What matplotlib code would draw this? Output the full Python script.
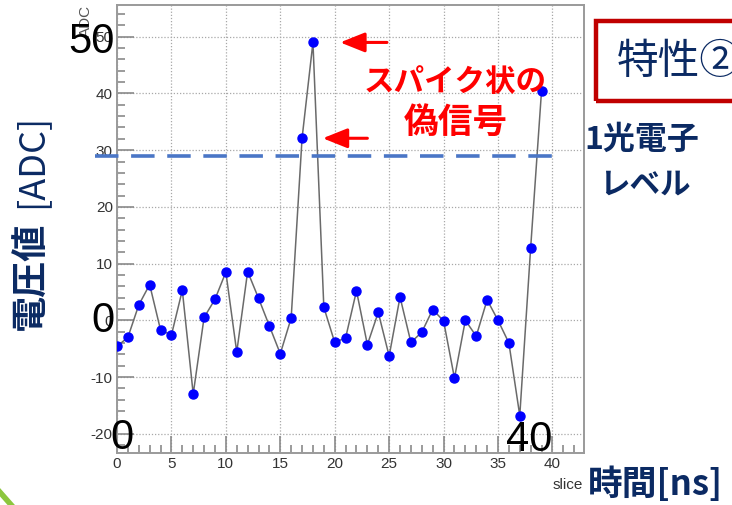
import matplotlib
matplotlib.use("Agg")
import matplotlib.pyplot as plt
from matplotlib.lines import Line2D
from matplotlib.patches import Rectangle
from matplotlib.ticker import MultipleLocator

plt.rcParams["axes.unicode_minus"] = False

# ADC samples per time slice
slices = list(range(40))
adc = [-4.6, -3.0, 2.7, 6.3, -1.7, -2.6, 5.3, -13.0, 0.5, 3.7,
       8.5, -5.6, 8.6, 3.9, -1.0, -5.9, 0.4, 32.1, 49.0, 2.3,
       -3.9, -3.1, 5.2, -4.3, 1.4, -6.3, 4.1, -3.9, -2.1, 1.9,
       -0.1, -10.2, 0.0, -2.8, 3.6, 0.0, -4.0, -16.8, 12.8, 40.5]
pe_level = 29.0
spike_slices = [18, 17]

W, H = 732, 505
fig = plt.figure(figsize=(W / 100, H / 100), dpi=100)
fig.patch.set_facecolor("white")

def fx(px):
    return px / W

def fy(py):
    return 1 - py / H

ax = fig.add_axes([fx(117), fy(453), fx(584) - fx(117), fy(5) - fy(453)])
ax.set_xlim(0, 42.9)
ax.set_ylim(-23.4, 55.6)

navy = "#0b2a63"
cjk = ["Noto Sans CJK JP", "DejaVu Sans"]
num_font = "Liberation Sans"

# frame and ticks in ROOT style
for s in ax.spines.values():
    s.set_color("#9a9a9a")
    s.set_linewidth(1.4)
ax.xaxis.set_major_locator(MultipleLocator(5))
ax.xaxis.set_minor_locator(MultipleLocator(1))
ax.yaxis.set_major_locator(MultipleLocator(10))
ax.yaxis.set_minor_locator(MultipleLocator(2))
ax.tick_params(which="both", direction="in", color="#8a8a8a", width=1.2,
               top=False, right=False)
ax.tick_params(which="major", length=12, labelsize=11, labelcolor="#333333", pad=3)
ax.tick_params(which="minor", length=6)
for lab in ax.get_xticklabels() + ax.get_yticklabels():
    lab.set_fontfamily(num_font)
ax.grid(True, which="major", linestyle=(0, (1, 1.5)), color="#a8a8a8", linewidth=0.9)
ax.set_axisbelow(True)

# waveform
ax.plot(slices, adc, color="#6a6a6a", linewidth=1.1, zorder=3)
ax.plot(slices, adc, linestyle="none", marker="o", markersize=6.5,
        color="#0000ff", zorder=4)

# single photo-electron threshold
ax.plot([-2.05, 41.0], [pe_level, pe_level], color="#4a76c6", linewidth=2.6,
        linestyle=(0, (6.5, 3.5)), clip_on=False, zorder=5)

# arrows to the spike samples
arrow_tails = [24.8, 23.0]
arrow_tips = [20.5, 18.9]
for i, s in enumerate(spike_slices):
    yv = adc[s]
    ax.annotate("", xy=(arrow_tips[i], yv), xytext=(arrow_tails[i], yv),
                arrowprops=dict(arrowstyle="-|>,head_length=0.75,head_width=0.3",
                                mutation_scale=20, color="#ff0000",
                                linewidth=2.2, shrinkA=0, shrinkB=0),
                zorder=6)

# axis titles from the histogram
fig.text(fx(583), fy(485), "slice", fontsize=11, color="#333333",
         family=num_font, ha="right", va="center")
fig.text(fx(86), fy(5), "ADC", fontsize=11, color="#555555", family=num_font,
         rotation=90, ha="center", va="top")

# slide annotations
fig.text(fx(455), fy(82), "スパイク状の", fontsize=22, color="#ff0000",
         fontweight="bold", family=cjk, ha="center", va="center")
fig.text(fx(456), fy(122), "偽信号", fontsize=25, color="#ff0000",
         fontweight="bold", family=cjk, ha="center", va="center")
fig.text(fx(642), fy(140), "1光電子", fontsize=23, color=navy,
         fontweight="bold", family=cjk, ha="center", va="center")
fig.text(fx(645), fy(185), "レベル", fontsize=22, color=navy,
         fontweight="bold", family=cjk, ha="center", va="center")
fig.text(fx(31), fy(276), "電圧値", fontsize=26, color=navy,
         fontweight="bold", family=cjk, rotation=90, ha="center", va="center")
fig.text(fx(31), fy(161), "[ADC]", fontsize=26, color=navy,
         family=cjk, rotation=90, ha="center", va="center")
fig.text(fx(655), fy(484), "時間[ns]", fontsize=25, color=navy,
         fontweight="bold", family=cjk, ha="center", va="center")

# boxed heading at upper right
fig.patches.append(Rectangle((fx(596), fy(101)), fx(760) - fx(596), fy(21) - fy(101),
                             transform=fig.transFigure, fill=False,
                             edgecolor="#c00000", linewidth=3.2))
fig.text(fx(617), fy(62), "特性②", fontsize=30, color=navy,
         family=cjk, ha="left", va="center")

# large axis value callouts
for txt, x, y in [("50", 91, 42), ("0", 103, 321), ("0", 122, 438), ("40", 529, 440)]:
    fig.text(fx(x), fy(y), txt, fontsize=30, color="black", family=num_font,
             ha="center", va="center")

# slide corner accent
fig.lines.append(Line2D([fx(-2), fx(13)], [fy(490), fy(507)],
                        transform=fig.transFigure, color="#8cc63e", linewidth=4))

fig.savefig("out.png", dpi=100)
